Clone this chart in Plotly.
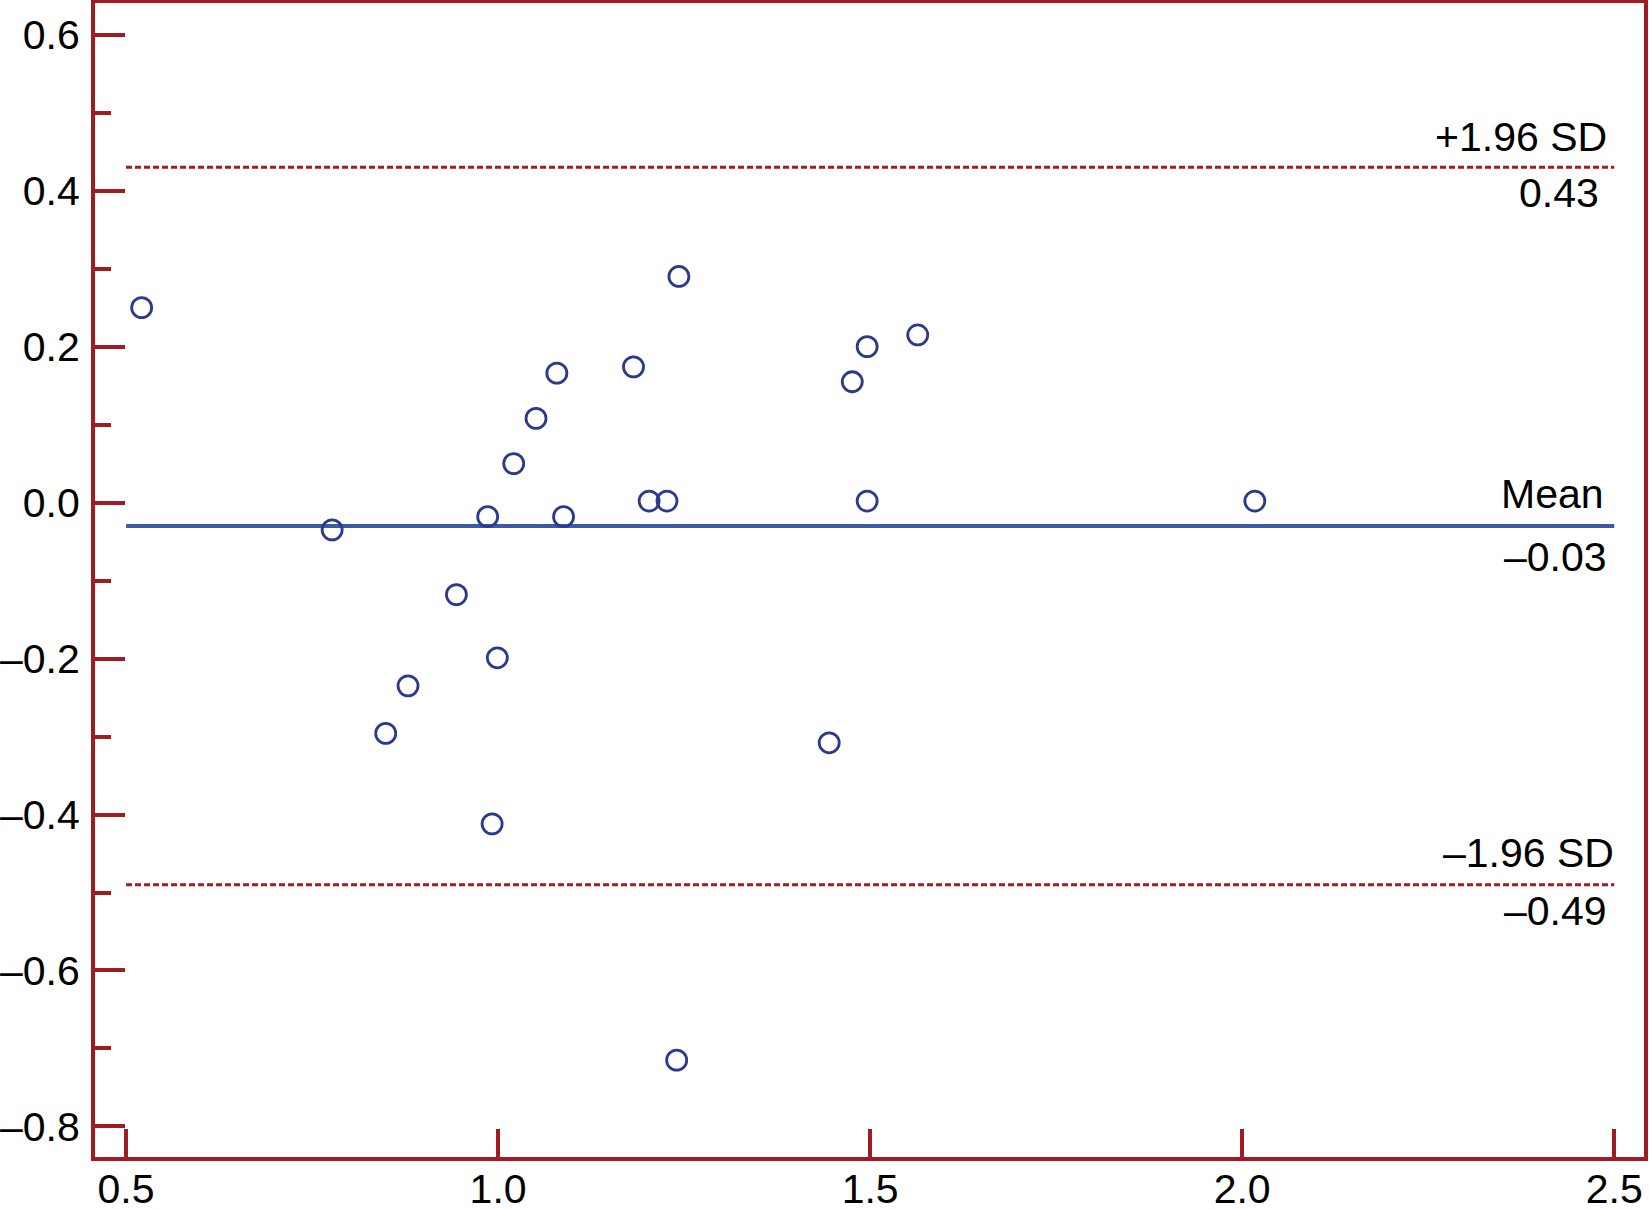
import plotly.graph_objects as go

# ---- data ----
mean_x = [0.521, 1.243, 0.777, 1.564, 1.496, 1.476, 1.182, 1.079, 1.051, 1.021,
          0.986, 1.088, 1.203, 1.227, 1.496, 2.017, 0.944, 0.999, 0.879, 0.849,
          1.445, 0.992, 1.240]
diff_y = [0.25, 0.29, -0.035, 0.215, 0.20, 0.155, 0.174, 0.166, 0.108, 0.05,
          -0.018, -0.018, 0.002, 0.002, 0.002, 0.002, -0.118, -0.199, -0.235, -0.296,
          -0.308, -0.412, -0.715]

mean_diff = -0.03
upper_loa = 0.43
lower_loa = -0.49
line_x = [0.5, 2.5]

x_tick_vals = [0.5, 1.0, 1.5, 2.0, 2.5]
x_tick_labels = ["0.5", "1.0", "1.5", "2.0", "2.5"]
y_tick_vals = [0.6, 0.4, 0.2, 0.0, -0.2, -0.4, -0.6, -0.8]
y_tick_labels = ["0.6", "0.4", "0.2", "0.0", "–0.2", "–0.4", "–0.6", "–0.8"]

RED = "#a01c22"
BLUE_LINE = "#3a5ba6"
BLUE_MARK = "#2b3a8c"
FONT = "Liberation Sans, Arial, Helvetica, sans-serif"
FS = 41

fig = go.Figure()

fig.add_trace(go.Scatter(x=line_x, y=[upper_loa, upper_loa], mode="lines",
                         line=dict(color=RED, width=3, dash="6px,3px"),
                         hoverinfo="skip", showlegend=False))
fig.add_trace(go.Scatter(x=line_x, y=[lower_loa, lower_loa], mode="lines",
                         line=dict(color=RED, width=3, dash="6px,3px"),
                         hoverinfo="skip", showlegend=False))
fig.add_trace(go.Scatter(x=line_x, y=[mean_diff, mean_diff], mode="lines",
                         line=dict(color=BLUE_LINE, width=4),
                         hoverinfo="skip", showlegend=False))
fig.add_trace(go.Scatter(x=mean_x, y=diff_y, mode="markers",
                         marker=dict(symbol="circle-open", size=20,
                                     color=BLUE_MARK, line=dict(width=2.8, color=BLUE_MARK)),
                         showlegend=False))

labels = [
    ("+1.96 SD", upper_loa, 30, -5),
    (f"{upper_loa:.2f}", upper_loa, -26, -13),
    ("Mean", mean_diff, 32, -8),
    (f"{mean_diff:.2f}".replace("-", "–"), mean_diff, -31, -5),
    ("–1.96 SD", lower_loa, 32, 2),
    (f"{lower_loa:.2f}".replace("-", "–"), lower_loa, -26, -5),
]
for text, yv, ys, xs in labels:
    fig.add_annotation(x=2.5, y=yv, xref="x", yref="y", text=text, showarrow=False,
                       xanchor="right", yanchor="middle", yshift=ys, xshift=xs,
                       font=dict(family=FONT, size=FS, color="black"))

fig.update_xaxes(range=[0.4583, 2.540], tickvals=x_tick_vals, ticktext=x_tick_labels,
                 ticks="inside", ticklen=28, tickwidth=4, tickcolor=RED,
                 showline=True, linecolor=RED, linewidth=4, mirror=True,
                 showgrid=False, zeroline=False, ticklabelstandoff=-7, automargin=False,
                 tickfont=dict(family=FONT, size=FS, color="black"))
fig.update_yaxes(range=[-0.8392, 0.6407], tickvals=y_tick_vals, ticktext=y_tick_labels,
                 ticks="inside", ticklen=30, tickwidth=4, tickcolor=RED,
                 minor=dict(dtick=0.1, tick0=0.1, ticks="inside", ticklen=16, tickwidth=4,
                            tickcolor=RED, showgrid=False),
                 showline=True, linecolor=RED, linewidth=4, mirror=True,
                 showgrid=False, zeroline=False, ticklabelstandoff=3, automargin=False,
                 tickfont=dict(family=FONT, size=FS, color="black"))

fig.update_layout(width=1649, height=1210, margin=dict(l=95, r=5, t=3, b=53, autoexpand=False),
                  paper_bgcolor="white", plot_bgcolor="white")

fig.write_html("out.html", config={"displayModeBar": False},
               post_script="document.body.style.margin='0';document.body.style.overflow='hidden';")
